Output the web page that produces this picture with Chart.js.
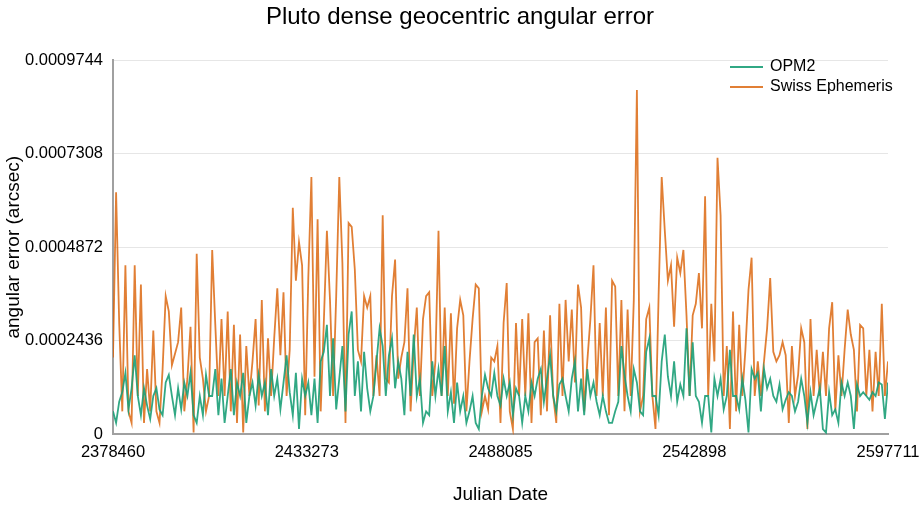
<!DOCTYPE html>
<html>
<head>
<meta charset="utf-8">
<title>Pluto dense geocentric angular error</title>
<script src="https://cdn.jsdelivr.net/npm/chart.js@4.4.1/dist/chart.umd.min.js"></script>
<style>
  html, body { margin: 0; padding: 0; background: #fff; }
  #wrap { width: 920px; height: 520px; position: relative; }
</style>
</head>
<body>
<div id="wrap"><canvas id="chart"></canvas></div>
<script>
/* ── data ─────────────────────────────────────────────────────── */
const JD_START = 2378460;
const JD_END   = 2597711;

const xTicks = [2378460, 2433273, 2488085, 2542898, 2597711];
const yTicks = [0, 0.0002436, 0.0004872, 0.0007308, 0.0009744];

const chartTitle  = 'Pluto dense geocentric angular error';
const seriesNames = ['OPM2', 'Swiss Ephemeris'];

// angular error in arcsec, evenly sampled from JD_START to JD_END
const opm2 = [
  0.6e-4, 0.3e-4, 0.85e-4, 1.1e-4, 1.6e-4, 0.65e-4, 1.2e-4, 2.06e-4, 1.0e-4, 0.5e-4,
  1.2e-4, 0.75e-4, 0.4e-4, 1.0e-4, 1.2e-4, 0.65e-4, 0.5e-4, 1.35e-4, 1.55e-4, 1.0e-4,
  0.5e-4, 1.2e-4, 0.65e-4, 1.35e-4, 1.0e-4, 1.6e-4, 0.5e-4, 0.3e-4, 1.0e-4, 0.5e-4,
  1.55e-4, 1.0e-4, 1.0e-4, 1.7e-4, 0.5e-4, 1.45e-4, 0.3e-4, 1.0e-4, 1.7e-4, 0.5e-4,
  1.35e-4, 1.0e-4, 1.6e-4, 0.3e-4, 1.0e-4, 1.35e-4, 0.75e-4, 1.55e-4, 1.0e-4, 1.35e-4,
  0.5e-4, 1.7e-4, 1.0e-4, 1.45e-4, 0.65e-4, 1.35e-4, 2.06e-4, 1.1e-4, 0.5e-4, 1.6e-4,
  0.14e-4, 1.45e-4, 1.0e-4, 1.35e-4, 0.5e-4, 1.45e-4, 0.3e-4, 1.9e-4, 2.15e-4, 2.85e-4,
  1.0e-4, 2.5e-4, 0.65e-4, 1.45e-4, 2.3e-4, 0.6e-4, 2.6e-4, 3.2e-4, 1.0e-4, 1.9e-4,
  0.6e-4, 2.15e-4, 1.2e-4, 0.6e-4, 1.0e-4, 1.9e-4, 2.76e-4, 2.3e-4, 1.0e-4, 2.06e-4,
  2.5e-4, 1.2e-4, 1.9e-4, 1.45e-4, 0.5e-4, 2.15e-4, 1.0e-4, 2.6e-4, 1.0e-4, 1.45e-4,
  0.3e-4, 0.6e-4, 0.5e-4, 1.9e-4, 1.0e-4, 1.7e-4, 1.0e-4, 2.3e-4, 0.6e-4, 1.1e-4,
  0.3e-4, 1.35e-4, 0.6e-4, 1.0e-4, 0.3e-4, 0.6e-4, 1.0e-4, 0.3e-4, 0.14e-4, 1.0e-4,
  1.55e-4, 1.2e-4, 1.0e-4, 1.6e-4, 1.0e-4, 0.75e-4, 1.45e-4, 1.0e-4, 1.35e-4, 0.5e-4,
  1.2e-4, 1.0e-4, 0.3e-4, 1.0e-4, 0.6e-4, 1.35e-4, 1.0e-4, 1.45e-4, 1.7e-4, 0.85e-4,
  1.45e-4, 2.06e-4, 1.0e-4, 0.6e-4, 1.3e-4, 1.45e-4, 1.0e-4, 0.6e-4, 1.45e-4, 1.9e-4,
  0.6e-4, 1.45e-4, 0.5e-4, 1.7e-4, 1.0e-4, 1.35e-4, 0.85e-4, 0.5e-4, 1.0e-4, 0.6e-4,
  0.3e-4, 0.3e-4, 0.6e-4, 0.85e-4, 2.3e-4, 1.55e-4, 1.0e-4, 0.6e-4, 1.7e-4, 1.35e-4,
  0.6e-4, 0.5e-4, 2.15e-4, 2.5e-4, 1.0e-4, 1.0e-4, 0.5e-4, 1.9e-4, 2.6e-4, 1.5e-4,
  1.0e-4, 1.9e-4, 0.85e-4, 1.3e-4, 1.0e-4, 2.76e-4, 1.0e-4, 2.4e-4, 1.0e-4, 0.85e-4,
  0.3e-4, 1.0e-4, 1.0e-4, 0.05e-4, 1.45e-4, 1.0e-4, 1.45e-4, 0.65e-4, 1.0e-4, 2.2e-4,
  1.0e-4, 1.0e-4, 0.65e-4, 1.45e-4, 0.9e-4, 0.05e-4, 1.7e-4, 1.45e-4, 1.6e-4, 0.6e-4,
  1.7e-4, 1.2e-4, 1.45e-4, 1.0e-4, 0.85e-4, 1.3e-4, 0.65e-4, 0.9e-4, 1.1e-4, 1.0e-4,
  0.6e-4, 0.85e-4, 1.45e-4, 1.0e-4, 0.3e-4, 1.1e-4, 0.5e-4, 0.85e-4, 1.2e-4, 0.14e-4,
  0.05e-4, 1.1e-4, 0.5e-4, 0.65e-4, 0.3e-4, 1.35e-4, 1.0e-4, 1.35e-4, 1.0e-4, 0.14e-4,
  1.3e-4, 1.0e-4, 1.1e-4, 1.0e-4, 0.9e-4, 1.1e-4, 1.0e-4, 1.35e-4, 1.3e-4, 0.4e-4,
  1.35e-4
];

const swiss = [
  2.0e-4, 6.3e-4, 2.9e-4, 0.6e-4, 4.4e-4, 0.6e-4, 0.3e-4, 4.4e-4, 1.0e-4, 3.9e-4,
  0.3e-4, 1.7e-4, 0.6e-4, 2.7e-4, 0.6e-4, 0.3e-4, 1.7e-4, 3.6e-4, 3.2e-4, 1.8e-4,
  2.1e-4, 2.4e-4, 3.3e-4, 0.6e-4, 1.45e-4, 2.8e-4, 0.05e-4, 4.7e-4, 2.0e-4, 1.45e-4,
  0.6e-4, 1.0e-4, 4.8e-4, 2.85e-4, 1.0e-4, 3.0e-4, 1.0e-4, 3.2e-4, 0.6e-4, 2.85e-4,
  0.3e-4, 2.6e-4, 0.05e-4, 2.3e-4, 1.0e-4, 1.9e-4, 3.0e-4, 0.75e-4, 3.5e-4, 0.6e-4,
  2.5e-4, 1.0e-4, 2.5e-4, 3.8e-4, 2.06e-4, 3.7e-4, 1.0e-4, 2.2e-4, 5.9e-4, 4.0e-4,
  5.0e-4, 4.4e-4, 0.5e-4, 4.07e-4, 6.7e-4, 1.5e-4, 5.6e-4, 0.6e-4, 2.9e-4, 5.3e-4,
  3.5e-4, 1.0e-4, 3.6e-4, 6.7e-4, 4.46e-4, 0.3e-4, 5.5e-4, 5.4e-4, 4.3e-4, 2.2e-4,
  1.9e-4, 3.6e-4, 3.3e-4, 3.6e-4, 1.0e-4, 2.06e-4, 1.0e-4, 5.7e-4, 1.45e-4, 1.35e-4,
  3.6e-4, 4.55e-4, 1.45e-4, 2.0e-4, 2.4e-4, 3.8e-4, 0.6e-4, 2.2e-4, 3.3e-4, 1.0e-4,
  3.0e-4, 3.6e-4, 3.7e-4, 1.0e-4, 1.9e-4, 5.3e-4, 1.0e-4, 3.3e-4, 1.0e-4, 3.15e-4,
  0.8e-4, 2.76e-4, 3.5e-4, 3.1e-4, 0.6e-4, 1.9e-4, 3.0e-4, 3.9e-4, 3.8e-4, 0.6e-4,
  1.0e-4, 0.65e-4, 2.0e-4, 1.9e-4, 2.3e-4, 0.3e-4, 2.9e-4, 3.94e-4, 0.6e-4, 0.14e-4,
  2.9e-4, 1.0e-4, 3.0e-4, 1.0e-4, 3.15e-4, 0.3e-4, 2.4e-4, 2.5e-4, 0.5e-4, 2.7e-4,
  0.6e-4, 3.1e-4, 1.0e-4, 0.3e-4, 3.4e-4, 1.0e-4, 3.5e-4, 1.9e-4, 3.25e-4, 1.35e-4,
  3.9e-4, 3.3e-4, 0.6e-4, 1.9e-4, 3.0e-4, 4.4e-4, 1.0e-4, 2.9e-4, 1.0e-4, 3.3e-4,
  0.5e-4, 4.0e-4, 3.85e-4, 1.0e-4, 3.5e-4, 0.6e-4, 3.25e-4, 1.0e-4, 3.5e-4, 8.96e-4,
  0.6e-4, 1.0e-4, 3.0e-4, 3.3e-4, 1.0e-4, 0.14e-4, 3.6e-4, 6.7e-4, 5.3e-4, 4.0e-4,
  4.4e-4, 2.8e-4, 4.6e-4, 4.2e-4, 4.8e-4, 3.1e-4, 1.0e-4, 3.1e-4, 3.4e-4, 4.2e-4,
  2.76e-4, 6.2e-4, 1.0e-4, 3.4e-4, 1.9e-4, 7.2e-4, 5.7e-4, 1.0e-4, 2.3e-4, 0.14e-4,
  3.2e-4, 0.6e-4, 2.85e-4, 1.0e-4, 2.2e-4, 3.76e-4, 4.6e-4, 1.0e-4, 1.9e-4, 1.0e-4,
  1.9e-4, 2.76e-4, 4.07e-4, 2.15e-4, 1.9e-4, 2.06e-4, 2.4e-4, 2.06e-4, 0.3e-4, 2.3e-4,
  1.0e-4, 1.55e-4, 2.76e-4, 2.4e-4, 0.14e-4, 3.0e-4, 1.0e-4, 2.2e-4, 1.0e-4, 2.15e-4,
  1.0e-4, 2.76e-4, 3.44e-4, 0.6e-4, 2.06e-4, 1.0e-4, 2.2e-4, 3.25e-4, 2.6e-4, 2.2e-4,
  0.6e-4, 2.85e-4, 2.76e-4, 1.0e-4, 2.2e-4, 0.6e-4, 2.15e-4, 1.0e-4, 3.4e-4, 1.0e-4,
  1.9e-4
];

/* ── style ────────────────────────────────────────────────────── */
const C = {
    green:  'rgba(27,158,119,0.9)',
    orange: 'rgba(217,95,2,0.8)',
    grid:   '#e6e6e6',
    axis:   '#a0a0a0',
    text:   '#000',
};
const FONT = "'Liberation Sans', Arial, Helvetica, sans-serif";

Chart.defaults.font.family = FONT;
Chart.defaults.color = C.text;

// sample dates (even grid between first and last JD)
const jd = opm2.map((_, i) => JD_START + i * (JD_END - JD_START) / (opm2.length - 1));
const toPoints = arr => arr.map((v, i) => ({ x: jd[i], y: v }));

/* ── title centred on the whole canvas + legend inside plot ──── */
const titleAndLegend = {
    id: 'titleAndLegend',
    afterDraw(chart) {
        const ctx = chart.ctx;
        ctx.save();
        ctx.fillStyle = C.text;
        ctx.textBaseline = 'middle';

        ctx.font = `24px ${FONT}`;
        ctx.textAlign = 'center';
        ctx.fillText(chartTitle, chart.width / 2, 17);

        ctx.font = `16px ${FONT}`;
        ctx.textAlign = 'left';
        chart.data.datasets.forEach((ds, i) => {
            const y = 67 + i * 20;
            ctx.strokeStyle = ds.borderColor;
            ctx.lineWidth = 2;
            ctx.beginPath();
            ctx.moveTo(730, y);
            ctx.lineTo(763, y);
            ctx.stroke();
            ctx.fillText(ds.label, 770, y);
        });
        ctx.restore();
    }
};

new Chart(document.getElementById('chart'), {
    type: 'line',
    data: {
        datasets: [
            {
                label: seriesNames[0],
                data: toPoints(opm2),
                borderColor: C.green,
                borderWidth: 1.8,
                pointRadius: 0,
                tension: 0,
            },
            {
                label: seriesNames[1],
                data: toPoints(swiss),
                borderColor: C.orange,
                borderWidth: 1.8,
                pointRadius: 0,
                tension: 0,
            },
        ]
    },
    options: {
        responsive: true,
        maintainAspectRatio: false,
        animation: false,
        layout: { padding: { left: 0, right: 32, top: 60, bottom: 10 } },
        plugins: {
            legend: { display: false },
            tooltip: { enabled: false },
            title: { display: false },
        },
        scales: {
            x: {
                type: 'linear',
                min: JD_START,
                max: JD_END,
                afterBuildTicks: s => { s.ticks = xTicks.map(v => ({ value: v })); },
                afterFit: s => { s.paddingRight = 32; s.paddingLeft = 0; },
                grid: { display: false, drawTicks: false },
                border: { display: true, color: C.axis, width: 2 },
                ticks: {
                    color: C.text,
                    font: { size: 16.5 },
                    padding: 8,
                    maxRotation: 0,
                    autoSkip: false,
                    callback: v => String(v),
                },
                title: {
                    display: true,
                    text: 'Julian Date',
                    color: C.text,
                    font: { size: 19 },
                    padding: { top: 13, bottom: 4 },
                },
            },
            y: {
                min: 0,
                max: yTicks[yTicks.length - 1],
                afterBuildTicks: s => { s.ticks = yTicks.map(v => ({ value: v })); },
                afterFit: s => { s.width = 113; },
                grid: { color: C.grid, lineWidth: 1, drawTicks: false },
                border: { display: true, color: C.axis, width: 2 },
                ticks: {
                    color: C.text,
                    font: { size: 16.5 },
                    padding: 10,
                    autoSkip: false,
                    callback: v => String(v),
                },
                title: {
                    display: true,
                    text: 'angular error (arcsec)',
                    color: C.text,
                    font: { size: 19 },
                    padding: { top: 2, bottom: 0 },
                },
            },
        }
    },
    plugins: [titleAndLegend],
});
</script>
</body>
</html>
